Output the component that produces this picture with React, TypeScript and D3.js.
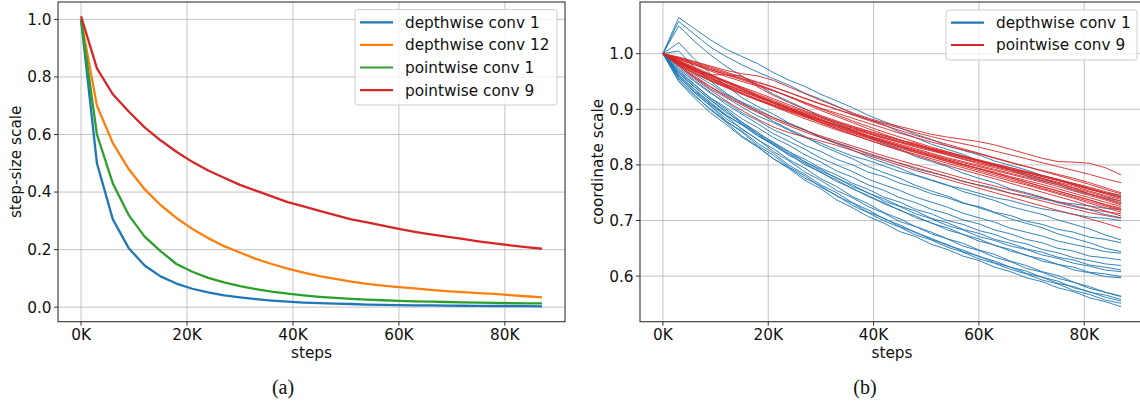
import { useEffect, useRef } from "react";
import * as d3 from "d3";

const width = 1140;
const height = 404;

// training steps where the scales were logged
const steps = [0, 3000, 6000, 9000, 12000, 15000, 18000, 21000, 24000, 27000, 30000, 33000, 36000, 39000, 42000, 45000, 48000, 51000, 54000, 57000, 60000, 63000, 66000, 69000, 72000, 75000, 78000, 81000, 84000, 87000];

const xTicks = [0, 20000, 40000, 60000, 80000];
const leftYTicks = [0, 0.2, 0.4, 0.6, 0.8, 1.0];
const rightYTicks = [0.6, 0.7, 0.8, 0.9, 1.0];

// (a) step-size scale
const depthwise1 = [1.0, 0.50, 0.305, 0.205, 0.145, 0.107, 0.082, 0.064, 0.051, 0.041, 0.034, 0.028, 0.023, 0.019, 0.016, 0.014, 0.012, 0.011, 0.009, 0.008, 0.007, 0.0065, 0.006, 0.0055, 0.005, 0.0045, 0.004, 0.004, 0.0035, 0.003];
const depthwise12 = [1.0, 0.70, 0.57, 0.48, 0.41, 0.355, 0.31, 0.272, 0.24, 0.212, 0.19, 0.168, 0.15, 0.134, 0.12, 0.108, 0.098, 0.089, 0.081, 0.075, 0.07, 0.065, 0.06, 0.056, 0.052, 0.049, 0.046, 0.042, 0.038, 0.034];
const pointwise1 = [1.0, 0.60, 0.43, 0.32, 0.245, 0.195, 0.15, 0.123, 0.102, 0.086, 0.073, 0.063, 0.054, 0.047, 0.041, 0.036, 0.032, 0.029, 0.026, 0.024, 0.022, 0.02, 0.019, 0.018, 0.017, 0.016, 0.015, 0.014, 0.013, 0.013];
const pointwise9 = [1.011, 0.83, 0.74, 0.68, 0.625, 0.58, 0.54, 0.505, 0.475, 0.45, 0.425, 0.405, 0.385, 0.365, 0.35, 0.335, 0.32, 0.305, 0.295, 0.283, 0.272, 0.262, 0.253, 0.245, 0.237, 0.229, 0.222, 0.215, 0.209, 0.203];

const leftSeries = [
  { name: "depthwise conv 1", color: "#1f77b4", values: depthwise1 },
  { name: "depthwise conv 12", color: "#ff7f0e", values: depthwise12 },
  { name: "pointwise conv 1", color: "#2ca02c", values: pointwise1 },
  { name: "pointwise conv 9", color: "#d62728", values: pointwise9 },
];

// (b) coordinate scale, one run per channel
const depthwiseRuns = [
  [1.0, 1.065, 1.045, 1.025, 1.008, 0.995, 0.982, 0.966, 0.952, 0.941, 0.927, 0.915, 0.903, 0.889, 0.878, 0.867, 0.855, 0.846, 0.834, 0.826, 0.818, 0.807, 0.799, 0.791, 0.781, 0.774, 0.765, 0.756, 0.75, 0.745],
  [1.0, 1.058, 1.035, 1.012, 0.995, 0.98, 0.967, 0.955, 0.943, 0.929, 0.918, 0.906, 0.892, 0.882, 0.872, 0.859, 0.849, 0.837, 0.828, 0.819, 0.807, 0.799, 0.791, 0.78, 0.772, 0.765, 0.754, 0.747, 0.741, 0.735],
  [1.0, 1.05, 1.022, 0.998, 0.977, 0.96, 0.944, 0.927, 0.914, 0.901, 0.886, 0.874, 0.863, 0.849, 0.838, 0.828, 0.815, 0.806, 0.797, 0.785, 0.776, 0.768, 0.757, 0.75, 0.742, 0.732, 0.725, 0.719, 0.711, 0.705],
  [1.0, 1.02, 0.99, 0.964, 0.943, 0.921, 0.905, 0.891, 0.875, 0.863, 0.849, 0.838, 0.827, 0.814, 0.804, 0.794, 0.782, 0.773, 0.764, 0.752, 0.744, 0.736, 0.725, 0.718, 0.711, 0.701, 0.693, 0.685, 0.674, 0.665],
  [1.0, 1.005, 0.975, 0.951, 0.929, 0.912, 0.896, 0.878, 0.864, 0.851, 0.835, 0.823, 0.811, 0.797, 0.786, 0.776, 0.763, 0.753, 0.744, 0.732, 0.723, 0.714, 0.703, 0.695, 0.687, 0.676, 0.668, 0.66, 0.65, 0.644],
  [1.0, 0.982, 0.963, 0.946, 0.927, 0.913, 0.9, 0.885, 0.874, 0.863, 0.85, 0.84, 0.831, 0.819, 0.811, 0.803, 0.793, 0.786, 0.779, 0.77, 0.764, 0.758, 0.749, 0.744, 0.739, 0.733, 0.73, 0.726, 0.722, 0.72],
  [1.0, 0.978, 0.957, 0.937, 0.921, 0.904, 0.888, 0.876, 0.862, 0.849, 0.839, 0.827, 0.816, 0.808, 0.798, 0.788, 0.781, 0.772, 0.763, 0.757, 0.749, 0.741, 0.736, 0.728, 0.721, 0.717, 0.711, 0.706, 0.704, 0.7],
  [1.0, 0.975, 0.952, 0.931, 0.909, 0.891, 0.874, 0.856, 0.842, 0.828, 0.812, 0.8, 0.788, 0.774, 0.764, 0.754, 0.742, 0.733, 0.724, 0.713, 0.705, 0.697, 0.686, 0.679, 0.672, 0.663, 0.657, 0.651, 0.644, 0.641],
  [1.0, 0.968, 0.944, 0.921, 0.903, 0.883, 0.867, 0.849, 0.835, 0.818, 0.805, 0.789, 0.778, 0.764, 0.754, 0.741, 0.732, 0.72, 0.712, 0.701, 0.694, 0.683, 0.676, 0.666, 0.66, 0.65, 0.645, 0.636, 0.633, 0.629],
  [1.0, 0.965, 0.94, 0.917, 0.894, 0.877, 0.856, 0.841, 0.823, 0.81, 0.794, 0.782, 0.767, 0.756, 0.742, 0.733, 0.72, 0.712, 0.7, 0.693, 0.682, 0.675, 0.664, 0.658, 0.648, 0.642, 0.633, 0.628, 0.622, 0.619],
  [1.0, 0.97, 0.945, 0.92, 0.9, 0.877, 0.859, 0.839, 0.824, 0.805, 0.792, 0.776, 0.764, 0.749, 0.739, 0.726, 0.717, 0.704, 0.696, 0.684, 0.677, 0.666, 0.659, 0.649, 0.643, 0.634, 0.629, 0.62, 0.616, 0.611],
  [1.0, 0.962, 0.936, 0.913, 0.89, 0.873, 0.853, 0.838, 0.82, 0.806, 0.789, 0.777, 0.761, 0.75, 0.735, 0.725, 0.712, 0.703, 0.691, 0.683, 0.671, 0.664, 0.654, 0.648, 0.638, 0.632, 0.623, 0.618, 0.611, 0.608],
  [1.0, 0.966, 0.941, 0.917, 0.897, 0.874, 0.856, 0.835, 0.819, 0.8, 0.787, 0.77, 0.758, 0.743, 0.732, 0.718, 0.708, 0.695, 0.687, 0.675, 0.667, 0.655, 0.648, 0.637, 0.631, 0.621, 0.616, 0.607, 0.604, 0.599],
  [1.0, 0.958, 0.932, 0.911, 0.889, 0.872, 0.852, 0.836, 0.817, 0.803, 0.786, 0.773, 0.757, 0.745, 0.73, 0.719, 0.705, 0.696, 0.683, 0.675, 0.663, 0.656, 0.645, 0.638, 0.627, 0.621, 0.611, 0.606, 0.599, 0.597],
  [1.0, 0.972, 0.95, 0.929, 0.913, 0.894, 0.88, 0.863, 0.851, 0.835, 0.824, 0.81, 0.8, 0.787, 0.779, 0.767, 0.759, 0.748, 0.741, 0.731, 0.725, 0.715, 0.709, 0.699, 0.693, 0.684, 0.679, 0.67, 0.666, 0.66],
  [1.0, 0.955, 0.926, 0.899, 0.877, 0.852, 0.833, 0.811, 0.793, 0.772, 0.757, 0.737, 0.723, 0.707, 0.695, 0.68, 0.671, 0.657, 0.648, 0.636, 0.628, 0.616, 0.608, 0.597, 0.59, 0.579, 0.572, 0.561, 0.554, 0.545],
  [1.0, 0.96, 0.93, 0.906, 0.879, 0.859, 0.835, 0.817, 0.796, 0.78, 0.76, 0.745, 0.727, 0.714, 0.699, 0.688, 0.674, 0.665, 0.652, 0.643, 0.631, 0.623, 0.612, 0.604, 0.593, 0.586, 0.574, 0.567, 0.557, 0.551],
  [1.0, 0.952, 0.924, 0.901, 0.878, 0.861, 0.839, 0.821, 0.799, 0.783, 0.764, 0.75, 0.732, 0.719, 0.703, 0.692, 0.678, 0.668, 0.655, 0.647, 0.635, 0.627, 0.616, 0.609, 0.598, 0.591, 0.579, 0.572, 0.562, 0.555],
  [1.0, 0.962, 0.935, 0.909, 0.888, 0.864, 0.846, 0.824, 0.807, 0.787, 0.772, 0.754, 0.741, 0.725, 0.713, 0.698, 0.689, 0.676, 0.667, 0.654, 0.646, 0.634, 0.626, 0.614, 0.607, 0.596, 0.589, 0.578, 0.571, 0.563],
  [1.0, 0.958, 0.93, 0.907, 0.883, 0.865, 0.845, 0.829, 0.809, 0.794, 0.775, 0.761, 0.743, 0.73, 0.714, 0.703, 0.689, 0.679, 0.667, 0.659, 0.647, 0.639, 0.627, 0.619, 0.608, 0.601, 0.589, 0.581, 0.571, 0.564],
  [1.0, 0.95, 0.92, 0.894, 0.873, 0.85, 0.832, 0.811, 0.795, 0.776, 0.762, 0.744, 0.731, 0.715, 0.704, 0.689, 0.679, 0.666, 0.657, 0.644, 0.636, 0.624, 0.616, 0.605, 0.598, 0.587, 0.581, 0.571, 0.566, 0.558],
];

const pointwiseRuns = [
  [1.0, 0.994, 0.986, 0.978, 0.97, 0.964, 0.96, 0.952, 0.94, 0.928, 0.916, 0.905, 0.894, 0.884, 0.876, 0.869, 0.862, 0.855, 0.85, 0.846, 0.842, 0.836, 0.828, 0.82, 0.812, 0.806, 0.805, 0.803, 0.795, 0.782],
  [1.0, 0.992, 0.982, 0.972, 0.963, 0.955, 0.948, 0.94, 0.93, 0.919, 0.909, 0.9, 0.891, 0.882, 0.874, 0.866, 0.858, 0.851, 0.844, 0.838, 0.832, 0.825, 0.818, 0.811, 0.804, 0.797, 0.79, 0.783, 0.775, 0.768],
  [1.0, 0.99, 0.98, 0.969, 0.959, 0.95, 0.942, 0.933, 0.923, 0.912, 0.902, 0.893, 0.884, 0.875, 0.866, 0.857, 0.849, 0.841, 0.834, 0.827, 0.82, 0.812, 0.804, 0.797, 0.79, 0.783, 0.776, 0.768, 0.759, 0.75],
  [1.0, 0.985, 0.973, 0.961, 0.95, 0.939, 0.927, 0.916, 0.905, 0.895, 0.886, 0.877, 0.868, 0.86, 0.852, 0.844, 0.839, 0.829, 0.822, 0.815, 0.808, 0.801, 0.795, 0.788, 0.781, 0.774, 0.767, 0.76, 0.752, 0.745],
  [1.0, 0.987, 0.974, 0.962, 0.951, 0.94, 0.93, 0.919, 0.908, 0.897, 0.887, 0.877, 0.867, 0.858, 0.85, 0.842, 0.835, 0.828, 0.821, 0.814, 0.807, 0.8, 0.793, 0.786, 0.779, 0.772, 0.765, 0.757, 0.749, 0.742],
  [1.0, 0.983, 0.969, 0.956, 0.944, 0.933, 0.922, 0.912, 0.902, 0.893, 0.884, 0.875, 0.866, 0.857, 0.848, 0.84, 0.832, 0.825, 0.818, 0.811, 0.804, 0.797, 0.79, 0.783, 0.776, 0.769, 0.762, 0.753, 0.745, 0.738],
  [1.0, 0.992, 0.983, 0.974, 0.965, 0.955, 0.945, 0.934, 0.922, 0.91, 0.898, 0.887, 0.876, 0.865, 0.855, 0.845, 0.836, 0.827, 0.818, 0.81, 0.802, 0.795, 0.788, 0.781, 0.774, 0.767, 0.759, 0.751, 0.743, 0.735],
  [1.0, 0.984, 0.97, 0.957, 0.944, 0.932, 0.921, 0.91, 0.9, 0.89, 0.88, 0.871, 0.862, 0.853, 0.845, 0.837, 0.829, 0.821, 0.813, 0.806, 0.799, 0.792, 0.785, 0.778, 0.771, 0.764, 0.756, 0.748, 0.74, 0.732],
  [1.0, 0.986, 0.971, 0.958, 0.945, 0.934, 0.923, 0.912, 0.901, 0.891, 0.881, 0.871, 0.861, 0.852, 0.843, 0.835, 0.827, 0.819, 0.811, 0.804, 0.797, 0.79, 0.783, 0.776, 0.769, 0.761, 0.753, 0.745, 0.737, 0.728],
  [1.0, 0.982, 0.967, 0.953, 0.941, 0.929, 0.918, 0.907, 0.897, 0.887, 0.877, 0.868, 0.859, 0.85, 0.841, 0.833, 0.825, 0.817, 0.809, 0.801, 0.794, 0.787, 0.779, 0.772, 0.765, 0.757, 0.749, 0.741, 0.733, 0.725],
  [1.0, 0.988, 0.976, 0.963, 0.95, 0.937, 0.924, 0.912, 0.9, 0.889, 0.879, 0.869, 0.859, 0.85, 0.841, 0.832, 0.823, 0.815, 0.807, 0.8, 0.793, 0.785, 0.777, 0.769, 0.761, 0.753, 0.745, 0.737, 0.729, 0.722],
  [1.0, 0.98, 0.964, 0.951, 0.939, 0.927, 0.916, 0.906, 0.896, 0.886, 0.876, 0.866, 0.857, 0.848, 0.839, 0.83, 0.822, 0.814, 0.806, 0.798, 0.79, 0.782, 0.774, 0.766, 0.758, 0.75, 0.742, 0.734, 0.726, 0.718],
  [1.0, 0.985, 0.97, 0.955, 0.942, 0.929, 0.917, 0.905, 0.894, 0.883, 0.873, 0.863, 0.854, 0.845, 0.836, 0.827, 0.819, 0.811, 0.803, 0.795, 0.787, 0.779, 0.771, 0.764, 0.756, 0.748, 0.74, 0.731, 0.723, 0.715],
  [1.0, 0.98, 0.96, 0.941, 0.925, 0.91, 0.897, 0.885, 0.873, 0.862, 0.852, 0.843, 0.834, 0.825, 0.816, 0.808, 0.8, 0.792, 0.784, 0.776, 0.769, 0.762, 0.755, 0.748, 0.741, 0.734, 0.727, 0.72, 0.716, 0.712],
  [1.0, 0.987, 0.973, 0.96, 0.948, 0.936, 0.924, 0.912, 0.9, 0.888, 0.876, 0.865, 0.855, 0.845, 0.835, 0.826, 0.817, 0.808, 0.799, 0.791, 0.783, 0.775, 0.767, 0.759, 0.751, 0.743, 0.735, 0.726, 0.717, 0.708],
  [1.0, 0.978, 0.958, 0.94, 0.923, 0.908, 0.894, 0.882, 0.87, 0.859, 0.849, 0.839, 0.83, 0.821, 0.812, 0.803, 0.795, 0.787, 0.779, 0.771, 0.763, 0.756, 0.749, 0.742, 0.735, 0.728, 0.721, 0.714, 0.709, 0.704],
  [1.0, 0.978, 0.955, 0.935, 0.915, 0.898, 0.882, 0.868, 0.858, 0.85, 0.843, 0.835, 0.826, 0.817, 0.808, 0.799, 0.79, 0.782, 0.774, 0.766, 0.758, 0.75, 0.742, 0.734, 0.726, 0.718, 0.711, 0.703, 0.695, 0.686],
  [1.0, 0.985, 0.968, 0.962, 0.962, 0.96, 0.94, 0.925, 0.912, 0.9, 0.889, 0.879, 0.87, 0.861, 0.853, 0.845, 0.837, 0.83, 0.823, 0.816, 0.809, 0.802, 0.795, 0.788, 0.781, 0.774, 0.766, 0.758, 0.75, 0.742],
  [1.0, 0.99, 0.98, 0.971, 0.962, 0.953, 0.944, 0.934, 0.923, 0.912, 0.901, 0.89, 0.879, 0.869, 0.859, 0.85, 0.841, 0.832, 0.824, 0.816, 0.808, 0.8, 0.792, 0.784, 0.776, 0.767, 0.758, 0.748, 0.739, 0.73],
  [1.0, 0.981, 0.965, 0.952, 0.94, 0.929, 0.918, 0.908, 0.898, 0.889, 0.88, 0.872, 0.864, 0.856, 0.848, 0.841, 0.834, 0.827, 0.82, 0.813, 0.806, 0.799, 0.792, 0.786, 0.779, 0.772, 0.764, 0.756, 0.748, 0.74],
  [1.0, 0.993, 0.985, 0.976, 0.967, 0.958, 0.949, 0.94, 0.93, 0.92, 0.91, 0.9, 0.89, 0.88, 0.871, 0.862, 0.853, 0.845, 0.837, 0.829, 0.821, 0.813, 0.805, 0.797, 0.789, 0.781, 0.773, 0.765, 0.756, 0.748],
  [1.0, 0.986, 0.973, 0.961, 0.949, 0.937, 0.925, 0.914, 0.903, 0.892, 0.882, 0.872, 0.862, 0.852, 0.843, 0.834, 0.825, 0.817, 0.809, 0.801, 0.793, 0.785, 0.777, 0.769, 0.761, 0.753, 0.745, 0.737, 0.728, 0.72],
];

const FONT = "'DejaVu Sans', sans-serif";
const FONT_SIZE = 15.3;
const TOP = 2;
const BOTTOM = 321.7;

function App() {
  const svgRef = useRef(null);

  useEffect(() => {
    const svg = d3.select(svgRef.current);
    svg.selectAll("*").remove();

    const drawFrame = (x, y, yTicks, yFmt, yLabel, yLabelX) => {
      const [x0, x1] = x.range();
      const g = svg.append("g");

      // grid
      g.selectAll(".gx").data(xTicks).join("line")
        .attr("x1", d => x(d)).attr("x2", d => x(d))
        .attr("y1", TOP).attr("y2", BOTTOM)
        .attr("stroke", "#b0b0b0").attr("stroke-width", 1).attr("stroke-opacity", 0.75);
      g.selectAll(".gy").data(yTicks).join("line")
        .attr("x1", x0).attr("x2", x1)
        .attr("y1", d => y(d)).attr("y2", d => y(d))
        .attr("stroke", "#b0b0b0").attr("stroke-width", 1).attr("stroke-opacity", 0.75);

      // ticks + labels
      g.selectAll(".tx").data(xTicks).join("line")
        .attr("x1", d => x(d)).attr("x2", d => x(d))
        .attr("y1", BOTTOM).attr("y2", BOTTOM + 4)
        .attr("stroke", "#333").attr("stroke-width", 1);
      g.selectAll(".lx").data(xTicks).join("text")
        .attr("x", d => x(d)).attr("y", 340)
        .attr("text-anchor", "middle")
        .attr("font-family", FONT).attr("font-size", FONT_SIZE).attr("fill", "#111")
        .text(d => `${d / 1000}K`);
      g.selectAll(".ty").data(yTicks).join("line")
        .attr("x1", x0 - 4).attr("x2", x0)
        .attr("y1", d => y(d)).attr("y2", d => y(d))
        .attr("stroke", "#333").attr("stroke-width", 1);
      g.selectAll(".ly").data(yTicks).join("text")
        .attr("x", x0 - 6.5).attr("y", d => y(d) + 5.4)
        .attr("text-anchor", "end")
        .attr("font-family", FONT).attr("font-size", FONT_SIZE).attr("fill", "#111")
        .text(d => yFmt(d));

      // axis labels
      g.append("text")
        .attr("x", (x0 + x1) / 2).attr("y", 358)
        .attr("text-anchor", "middle")
        .attr("font-family", FONT).attr("font-size", FONT_SIZE).attr("fill", "#111")
        .text("steps");
      g.append("text")
        .attr("transform", `translate(${yLabelX},${(TOP + BOTTOM) / 2}) rotate(-90)`)
        .attr("text-anchor", "middle")
        .attr("font-family", FONT).attr("font-size", FONT_SIZE).attr("fill", "#111")
        .text(yLabel);
    };

    const drawSpines = (x) => {
      const [x0, x1] = x.range();
      svg.append("rect")
        .attr("x", x0).attr("y", TOP)
        .attr("width", x1 - x0).attr("height", BOTTOM - TOP)
        .attr("fill", "none").attr("stroke", "#333").attr("stroke-width", 1.1);
    };

    const drawLegend = (items, box, rowY) => {
      const g = svg.append("g");
      g.append("rect")
        .attr("x", box.x).attr("y", box.y).attr("width", box.w).attr("height", box.h)
        .attr("rx", 3).attr("fill", "white").attr("fill-opacity", 0.8)
        .attr("stroke", "#cccccc").attr("stroke-width", 1);
      items.forEach((it, i) => {
        const cy = rowY[i];
        g.append("line")
          .attr("x1", box.x + 5).attr("x2", box.x + 38)
          .attr("y1", cy).attr("y2", cy)
          .attr("stroke", it.color).attr("stroke-width", 2.2);
        g.append("text")
          .attr("x", box.x + 50).attr("y", cy + 5.4)
          .attr("font-family", FONT).attr("font-size", FONT_SIZE).attr("fill", "#111")
          .text(it.name);
      });
    };

    // ---- (a) ----
    const xA = d3.scaleLinear().domain([-4350, 91350]).range([58, 565]);
    const yA = d3.scaleLinear().domain([-0.0505, 1.0605]).range([BOTTOM, TOP]);
    drawFrame(xA, yA, leftYTicks, d3.format(".1f"), "step-size scale", 21);

    const lineA = d3.line<number>()
      .x((_, i) => xA(steps[i]))
      .y(d => yA(d));
    leftSeries.forEach(s => {
      svg.append("path")
        .attr("d", lineA(s.values))
        .attr("fill", "none")
        .attr("stroke", s.color)
        .attr("stroke-width", 2.3)
        .attr("stroke-linejoin", "round");
    });
    drawSpines(xA);
    drawLegend(leftSeries, { x: 355, y: 9.5, w: 202, h: 95.5 }, [22.3, 44.9, 67.5, 90.1]);

    // ---- (b) ----
    const xB = d3.scaleLinear().domain([-4350, 91350]).range([640, 1144]);
    const yB = d3.scaleLinear().domain([0.518, 1.093]).range([BOTTOM, TOP]);
    drawFrame(xB, yB, rightYTicks, d3.format(".1f"), "coordinate scale", 603);

    const lineB = d3.line<number>()
      .x((_, i) => xB(steps[i]))
      .y(d => yB(d));
    depthwiseRuns.forEach(run => {
      svg.append("path")
        .attr("d", lineB(run))
        .attr("fill", "none")
        .attr("stroke", "#1f77b4")
        .attr("stroke-width", 1)
        .attr("stroke-opacity", 0.9);
    });
    pointwiseRuns.forEach(run => {
      svg.append("path")
        .attr("d", lineB(run))
        .attr("fill", "none")
        .attr("stroke", "#d62728")
        .attr("stroke-width", 1)
        .attr("stroke-opacity", 0.9);
    });
    drawSpines(xB);
    drawLegend(
      [leftSeries[0], leftSeries[3]],
      { x: 946, y: 10, w: 191, h: 50 },
      [22.7, 45],
    );

    // captions
    [["(a)", 283], ["(b)", 865]].forEach(([t, cx]) => {
      svg.append("text")
        .attr("x", cx).attr("y", 394)
        .attr("text-anchor", "middle")
        .attr("font-family", "'Liberation Serif', 'Times New Roman', serif")
        .attr("font-size", 20).attr("fill", "#111")
        .text(t as string);
    });
  }, []);

  return (
    <div>
      <style>{"body{margin:0}"}</style>
      <svg width={width} height={height} ref={svgRef} style={{ display: "block", background: "white" }} />
    </div>
  );
}

export default App;
